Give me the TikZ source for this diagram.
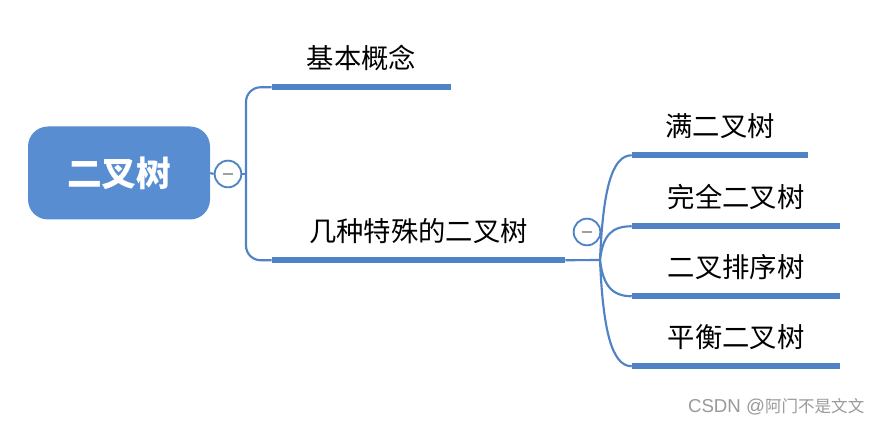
\documentclass[tikz,border=0pt]{standalone}
\usepackage{fontspec}
\setmainfont{Noto Sans CJK SC}
\newfontfamily\latinfont{Liberation Sans}
\usepackage{xcolor}
\usepackage{tikz}
\usetikzlibrary{positioning}
\definecolor{mapblue}{RGB}{88,141,209}
\definecolor{linkblue}{RGB}{79,131,198}

\begin{document}
\begin{tikzpicture}[x=0.75pt, y=0.75pt,
  root/.style={fill=mapblue, rounded corners=15pt, minimum width=136.5pt, minimum height=69.75pt, text=white, font=\fontsize{26pt}{30pt}\selectfont\bfseries},
  topic/.style={minimum width=#1, minimum height=43.5pt, inner sep=0pt, font=\fontsize{20.5pt}{24pt}\selectfont},
  collapse/.style={circle, draw=linkblue, line width=1.4pt, fill=white, minimum size=20pt, inner sep=0pt,
    path picture={\draw[line width=1.8pt, gray!75] ([xshift=-4pt]path picture bounding box.center) -- ([xshift=4pt]path picture bounding box.center);}},
  link/.style={draw=linkblue, line width=1.6pt},
  bar/.style={draw=linkblue, line width=4.2pt}
]
\useasboundingbox (0,0) rectangle (883,427);
\node[root] (tree) at (119,254) {二叉树};
\node[collapse] (fold1) at (228,253) {};
\coordinate (trunk) at (246,253);
\node[topic=134.25pt] (basic) at (361.5,369) {基本概念};
\node[topic=219.75pt] (special) at (418.5,196) {几种特殊的二叉树};
\node[collapse] (fold2) at (587,195) {};
\coordinate (fork) at (600,167);
\node[topic=132pt] (full) at (720,301) {满二叉树};
\node[topic=156pt] (complete) at (736,230) {完全二叉树};
\node[topic=156pt] (bst) at (736,160) {二叉排序树};
\node[topic=156pt] (avl) at (736,90) {平衡二叉树};
\node[anchor=east, text=gray!80, font=\fontsize{12.4pt}{14pt}\selectfont] (mark) at (869,20) {{\latinfont\fontsize{14pt}{16pt}\selectfont CSDN @}阿门不是文文};

\foreach \n in {basic,special,full,complete,bst,avl}
  \draw[bar] (\n.south west) -- (\n.south east);
\draw[link] (tree.east) -- (fold1.west);
\draw[link] (fold1.east) -- (trunk);
\draw[link, rounded corners=11pt] (trunk) |- (basic.south west);
\draw[link, rounded corners=11pt] (trunk) |- (special.south west);
\draw[link] (special.south east) -- (fork);
\foreach \n/\d in {full/70,complete/25,bst/-25,avl/-70}
  \draw[link] (fork) .. controls +(3,\d) and +(-20,0) .. (\n.south west);
\end{tikzpicture}
\end{document}
